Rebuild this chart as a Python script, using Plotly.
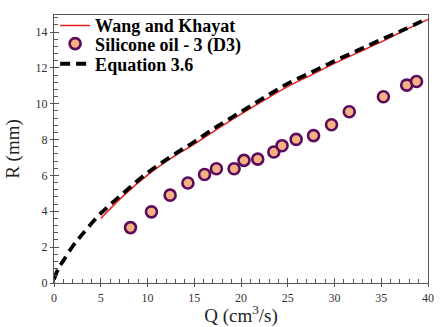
import plotly.graph_objects as go

# Wang and Khayat model curve
wk_q = [5, 7.5, 10, 12.5, 15, 17.5, 20, 22.5, 25, 27.5, 30, 32.5, 35, 37.5, 40]
wk_r = [3.6, 4.9, 6.02, 6.95, 7.75, 8.6, 9.42, 10.2, 10.95, 11.6, 12.25, 12.85, 13.45, 14.1, 14.7]

# Silicone oil - 3 (D3) experimental points
exp_q = [8.18, 10.42, 12.42, 14.32, 16.1, 17.37, 19.26, 20.32, 21.79, 23.51,
         24.39, 25.9, 27.76, 29.68, 31.58, 35.23, 37.72, 38.77]
exp_r = [3.09, 3.97, 4.90, 5.58, 6.05, 6.37, 6.37, 6.84, 6.91, 7.31,
         7.66, 8.01, 8.22, 8.83, 9.55, 10.39, 11.04, 11.24]

# Equation 3.6 curve
eq_q = [0, 0.5, 1, 2, 3, 5, 7.5, 10, 12.5, 15, 17.5, 20, 22.5, 25, 27.5, 30, 32.5, 35, 37.5, 39.7]
eq_r = [0.2, 0.85, 1.25, 2.05, 2.7, 3.88, 5.05, 6.15, 7.05, 7.88, 8.75, 9.55, 10.35, 11.12, 11.75, 12.38, 12.98, 13.58, 14.15, 14.7]

serif = "Liberation Serif"

fig = go.Figure()
fig.add_trace(go.Scatter(x=wk_q, y=wk_r, mode="lines", name="Wang and Khayat",
                         line=dict(color="#e8201c", width=1.5, shape="spline"),
                         legend="legend"))
fig.add_trace(go.Scatter(x=exp_q, y=exp_r, mode="markers", name="Silicone oil - 3 (D3)",
                         marker=dict(size=11, color="#f4b283",
                                     line=dict(color="#5c0a5e", width=2.6)),
                         legend="legend2"))
fig.add_trace(go.Scatter(x=eq_q, y=eq_r, mode="lines", name="Equation 3.6",
                         line=dict(color="black", width=3.8, dash="10px,6px", shape="spline"),
                         legend="legend3"))

# invisible trace to activate overlay axis for crossing ticks
fig.add_trace(go.Scatter(x=[0], y=[0], xaxis="x2", yaxis="y2", mode="markers",
                         marker=dict(opacity=0), showlegend=False, hoverinfo="skip"))

axis_col = "#555555"
leg_font = dict(family=serif, size=18, color="black", weight="bold")


def leg(yc):
    return dict(x=0.003, y=yc, xanchor="left", yanchor="middle",
                bgcolor="rgba(0,0,0,0)", borderwidth=0, font=leg_font, itemwidth=30)


fig.update_layout(
    width=441, height=327,
    margin=dict(l=54, r=7, t=7, b=41),
    paper_bgcolor="white", plot_bgcolor="white",
    font=dict(family=serif, color="#222"),
    showlegend=True,
    legend=leg(0.96),
    legend2=leg(0.892),
    legend3=leg(0.817),
    xaxis=dict(range=[0, 40], dtick=5, tick0=0, showline=True, linecolor=axis_col,
               linewidth=1.2, mirror=True, ticks="outside", ticklen=3, tickcolor=axis_col,
               minor=dict(dtick=1, ticks="inside", ticklen=4, tickcolor=axis_col),
               showgrid=False, zeroline=False,
               tickfont=dict(family=serif, size=12, color="#333"),
               title=dict(text="Q (cm<sup>3</sup>/s)", font=dict(family=serif, size=19, color="#222"),
                          standoff=2)),
    yaxis=dict(range=[0, 14.95], dtick=2, tick0=0, showline=True, linecolor=axis_col,
               linewidth=1.2, mirror=True, ticks="outside", ticklen=3, tickcolor=axis_col,
               minor=dict(dtick=0.4, ticks="inside", ticklen=4, tickcolor=axis_col),
               showgrid=False, zeroline=False,
               tickfont=dict(family=serif, size=12, color="#333"),
               title=dict(text="R (mm)", font=dict(family=serif, size=19, color="#222"),
                          standoff=10)),
    xaxis2=dict(range=[0, 40], dtick=5, overlaying="x", anchor="y", side="bottom",
                ticks="inside", ticklen=5, tickcolor=axis_col, showticklabels=False,
                showgrid=False, zeroline=False, showline=False),
    yaxis2=dict(range=[0, 14.95], dtick=2, overlaying="y", anchor="x", side="left",
                ticks="inside", ticklen=5, tickcolor=axis_col, showticklabels=False,
                showgrid=False, zeroline=False, showline=False),
)

fig.write_html("out.html")
